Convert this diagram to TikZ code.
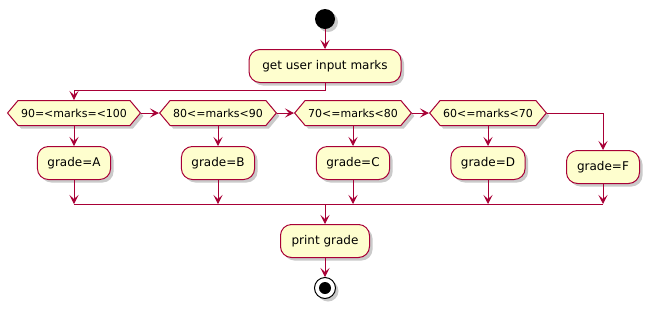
\documentclass[tikz,border=0pt]{standalone}
\usepackage{fontspec}
\setmainfont{DejaVu Sans}
\usetikzlibrary{arrows.meta,shapes.symbols,shadows}
\definecolor{flowred}{HTML}{A80036}
\definecolor{boxfill}{HTML}{FEFECE}
\begin{document}
\begin{tikzpicture}[x=1pt,y=-1pt,
  dropsh/.style={drop shadow={shadow xshift=3pt,shadow yshift=-3pt,opacity=0.35,fill=black!60}},
  action/.style={draw=flowred,fill=boxfill,line width=1pt,rounded corners=11pt,
    minimum height=33pt,inner xsep=10pt,font=\fontsize{12}{14}\selectfont,dropsh},
  test/.style={signal,signal to=west and east,signal pointer angle=100,draw=flowred,
    fill=boxfill,line width=1pt,minimum height=25pt,inner xsep=3pt,
    font=\fontsize{11}{13}\selectfont,dropsh},
  flow/.style={draw=flowred,line width=1pt,-{Stealth[length=9pt,width=9pt,inset=4pt]}},
  link/.style={draw=flowred,line width=1pt},
]
\useasboundingbox (0,0) rectangle (651,309);

% start and first action
\node[circle,fill=black,minimum size=20pt,inner sep=0pt,dropsh] (start) at (325,19) {};
\node[action,minimum width=152pt] (input) at (325,66) {get user input marks};

% chain of tests
\node[test,minimum width=128pt] (t1) at (74,113) {90=<marks=<100};
\node[test,minimum width=113pt] (t2) at (218,113) {80<=marks<90};
\node[test,minimum width=113pt] (t3) at (353,113) {70<=marks<80};
\node[test,minimum width=113pt] (t4) at (488,113) {60<=marks<70};

% grade actions
\node[action,minimum width=73pt] (ga) at (74,163) {grade=A};
\node[action,minimum width=73pt] (gb) at (218,163) {grade=B};
\node[action,minimum width=73pt] (gc) at (353,163) {grade=C};
\node[action,minimum width=73pt] (gd) at (488,163) {grade=D};
\node[action,minimum width=73pt] (gf) at (603,167) {grade=F};

% merge bar
\coordinate (ma) at (74,204);
\coordinate (mb) at (218,204);
\coordinate (mc) at (353,204);
\coordinate (md) at (488,204);
\coordinate (mf) at (603,204);
\coordinate (mm) at (325,204);

% final action and stop
\node[action,minimum width=89pt] (print) at (325,241) {print grade};
\node[circle,draw=black,fill=white,line width=1pt,minimum size=21pt,inner sep=0pt,dropsh] (stop) at (325,288) {};
\node[circle,fill=black,minimum size=12pt,inner sep=0pt] (stopdot) at (stop) {};

% connectors
\draw[flow] (start) -- (input);
\draw[flow] (input.south) -- ++(0,7) -| (t1.north);
\draw[flow] (t1.east) -- (t2.west);
\draw[flow] (t2.east) -- (t3.west);
\draw[flow] (t3.east) -- (t4.west);
\draw[flow] (t4.east) -| (gf.north);
\draw[flow] (t1.south) -- (ga.north);
\draw[flow] (t2.south) -- (gb.north);
\draw[flow] (t3.south) -- (gc.north);
\draw[flow] (t4.south) -- (gd.north);
\draw[flow] (ga.south) -- (ma);
\draw[flow] (gb.south) -- (mb);
\draw[flow] (gc.south) -- (mc);
\draw[flow] (gd.south) -- (md);
\draw[flow] (gf.south) -- (mf);
\draw[link] (ma) -- (mf);
\draw[flow] (mm) -- (print.north);
\draw[flow] (print.south) -- (stop.north);
\end{tikzpicture}
\end{document}
